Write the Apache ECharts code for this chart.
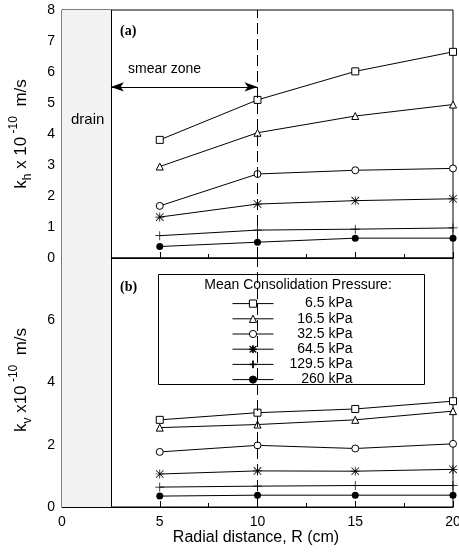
<!DOCTYPE html>
<html><head><meta charset="utf-8">
<script src="https://cdn.jsdelivr.net/npm/echarts@6/dist/echarts.min.js"></script>
<style>html,body{margin:0;padding:0;background:#fff}#c{width:459px;height:556px}</style>
</head><body><div id="c"></div>
<script>
var radii = [5, 10, 15, 20];
var pressures = ['6.5 kPa', '16.5 kPa', '32.5 kPa', '64.5 kPa', '129.5 kPa', '260 kPa'];
var kh_6_5 = [3.81, 5.10, 6.02, 6.65];
var kh_16_5 = [2.95, 4.04, 4.58, 4.95];
var kh_32_5 = [1.68, 2.71, 2.83, 2.89];
var kh_64_5 = [1.32, 1.74, 1.85, 1.91];
var kh_129_5 = [0.72, 0.90, 0.93, 0.97];
var kh_260 = [0.37, 0.51, 0.64, 0.64];
var kv_6_5 = [2.80, 3.03, 3.15, 3.40];
var kv_16_5 = [2.55, 2.65, 2.80, 3.08];
var kv_32_5 = [1.77, 1.98, 1.88, 2.03];
var kv_64_5 = [1.06, 1.16, 1.15, 1.21];
var kv_129_5 = [0.64, 0.67, 0.69, 0.69];
var kv_260 = [0.35, 0.38, 0.38, 0.38];
var xTicks = [0, 5, 10, 15, 20];
var khTicks = [0, 1, 2, 3, 4, 5, 6, 7, 8];
var kvTicks = [0, 2, 4, 6];
var drainEdge = 2.5, smearEdge = 10, arrowY = 5.52;

var FONT = 'Liberation Sans';
var khSets = [kh_6_5, kh_16_5, kh_32_5, kh_64_5, kh_129_5, kh_260];
var kvSets = [kv_6_5, kv_16_5, kv_32_5, kv_64_5, kv_129_5, kv_260];
var asterisk = 'path://M4.6,0L5.4,0L5.4,10L4.6,10Z M0,4.6L10,4.6L10,5.4L0,5.4Z M1.1,0.5L9.5,8.9L8.9,9.5L0.5,1.1Z M8.9,0.5L9.5,1.1L1.1,9.5L0.5,8.9Z';
var plus = 'path://M4.6,0L5.4,0L5.4,10L4.6,10Z M0,4.6L10,4.6L10,5.4L0,5.4Z';
var symbols = [
  {symbol:'rect', size:7, color:'#fff', bw:1},
  {symbol:'triangle', size:7, color:'#fff', bw:1},
  {symbol:'circle', size:7, color:'#fff', bw:1},
  {symbol:asterisk, size:9, color:'#000', bw:0},
  {symbol:plus, size:9, color:'#000', bw:0},
  {symbol:'circle', size:7, color:'#000', bw:0}
];
function pts(arr){ return radii.map(function(r,i){return [r, arr[i]];}); }

var series = [];
[khSets, kvSets].forEach(function(sets, panel){
  sets.forEach(function(arr, i){
    var s = {
      type:'line', name: pressures[i], xAxisIndex: panel, yAxisIndex: panel,
      data: pts(arr), symbol: symbols[i].symbol, symbolSize: symbols[i].size,
      showAllSymbol: true, animation:false, z: 3,
      itemStyle: {color: symbols[i].color, borderColor:'#000', borderWidth: symbols[i].bw},
      lineStyle: {color:'#000', width:1}
    };
    if (i === 0) {
      s.markArea = {silent:true, itemStyle:{color:'#f3f3f3'}, data:[[{xAxis:0},{xAxis:drainEdge}]]};
      var ml = [
        {xAxis: drainEdge, lineStyle:{type:'solid', color:'#000', width:1}},
        {xAxis: smearEdge, lineStyle:{type:[11,5], color:'#000', width:1}}
      ];
      s.markLine = {silent:true, symbol:'none', label:{show:false}, animation:false, data: ml};
    }
    if (i === 1 && panel === 0) {
      s.markLine = {silent:true, symbol:['arrow','arrow'], symbolSize:[7,13], label:{show:false}, animation:false,
        lineStyle:{type:'solid', color:'#000', width:1},
        data:[[{coord:[drainEdge, arrowY]},{coord:[smearEdge, arrowY]}]]};
    }
    series.push(s);
  });
});

function xAxis(idx, showLabel){
  return {type:'value', gridIndex: idx, min:0, max:20, interval:5,
    axisLine:{show:true, onZero:false, lineStyle:{color:'#000', width:1}},
    axisTick:{show:true, inside:true, length:6, lineStyle:{color:'#000'}},
    minorTick:{show:true, splitNumber:2, length:4, lineStyle:{color:'#000'}},
    splitLine:{show:false},
    axisLabel:{show:showLabel, color:'#000', fontFamily:FONT, fontSize:14, margin:8,
      formatter:function(v){ return xTicks.indexOf(v) >= 0 ? String(v) : ''; }}};
}
function yAxis(idx, interval, ticks){
  return {type:'value', gridIndex: idx, min:0, max:8, interval: interval,
    axisLine:{show:true, lineStyle:{color:'#000', width:1}},
    axisTick:{show:true, inside:true, length:6, lineStyle:{color:'#000'}},
    minorTick:{show:true, splitNumber:2, length:4, lineStyle:{color:'#000'}},
    splitLine:{show:false},
    axisLabel:{color:'#000', fontFamily:FONT, fontSize:14, margin:7,
      formatter:function(v){ return ticks.indexOf(v) >= 0 ? String(v) : ''; }}};
}

var richTitle = {
  t:{fontFamily:FONT, fontSize:17, color:'#000', lineHeight:26, verticalAlign:'middle'},
  sb:{fontFamily:FONT, fontSize:12, color:'#000', lineHeight:26, verticalAlign:'bottom', padding:[6,0,0,0]},
  sp:{fontFamily:FONT, fontSize:12, color:'#000', lineHeight:26, verticalAlign:'top', padding:[0,0,10,0]}
};

var option = {
  backgroundColor:'#fff',
  animation:false,
  grid:[
    {left:62, top:10, width:391, height:248, show:true, borderColor:'#000', borderWidth:1, backgroundColor:'transparent', containLabel:false, outerBoundsMode:'none'},
    {left:62, top:258, width:391, height:249, show:true, borderColor:'#000', borderWidth:1, backgroundColor:'transparent', containLabel:false, outerBoundsMode:'none'}
  ],
  xAxis:[xAxis(0,false), xAxis(1,true)],
  yAxis:[yAxis(0,1,khTicks), yAxis(1,2,kvTicks)],
  legend:{
    data: pressures, orient:'vertical', left:232, top:296, itemWidth:41, itemHeight:9, itemGap:0,
    selectedMode:false, z:6, padding:0,
    lineStyle:{width:1, color:'#000'},
    itemStyle:{borderWidth:1},
    textStyle:{fontFamily:FONT, fontSize:14, color:'#000', lineHeight:15.2,
      rich:{r:{width:74, align:'right', fontFamily:FONT, fontSize:14, color:'#000', lineHeight:15.2}}},
    formatter:function(n){ return '{r|' + n + '}'; }
  },
  graphic:[
    {type:'rect', z:5, shape:{x:158.5, y:274.5, width:266, height:110}, style:{fill:'#fff', stroke:'#000', lineWidth:1}},
    {type:'text', z:6, x:298, y:285, style:{text:'Mean Consolidation Pressure:', fontFamily:FONT, fontSize:14, fill:'#000', textAlign:'center', textVerticalAlign:'middle'}},
    {type:'text', z:6, x:128, y:69, style:{text:'smear zone', fontFamily:FONT, fontSize:14, fill:'#000', textAlign:'left', textVerticalAlign:'middle'}},
    {type:'text', z:6, x:71, y:120, style:{text:'drain', fontFamily:FONT, fontSize:15, fill:'#000', textAlign:'left', textVerticalAlign:'middle'}},
    {type:'text', z:6, x:120, y:31, style:{text:'(a)', fontFamily:'Liberation Serif', fontWeight:'bold', fontSize:14, fill:'#000', textAlign:'left', textVerticalAlign:'middle'}},
    {type:'text', z:6, x:120, y:287, style:{text:'(b)', fontFamily:'Liberation Serif', fontWeight:'bold', fontSize:14, fill:'#000', textAlign:'left', textVerticalAlign:'middle'}},
    {type:'text', z:6, x:256, y:538, style:{text:'Radial distance, R (cm)', fontFamily:FONT, fontSize:16, fill:'#000', textAlign:'center', textVerticalAlign:'middle'}},
    {type:'text', z:6, x:21, y:134, rotation:Math.PI/2, style:{text:'{t|k}{sb|h}{t| x 10}{sp| -10}{t|  m/s}', rich:richTitle, textAlign:'center', textVerticalAlign:'middle'}},
    {type:'text', z:6, x:21, y:380, rotation:Math.PI/2, style:{text:'{t|k}{sb|v}{t| x10}{sp| -10}{t|  m/s}', rich:richTitle, textAlign:'center', textVerticalAlign:'middle'}}
  ],
  series: series
};
var chart = echarts.init(document.getElementById('c'), null, {renderer:'canvas'});
chart.setOption(option);
</script>
</body></html>
